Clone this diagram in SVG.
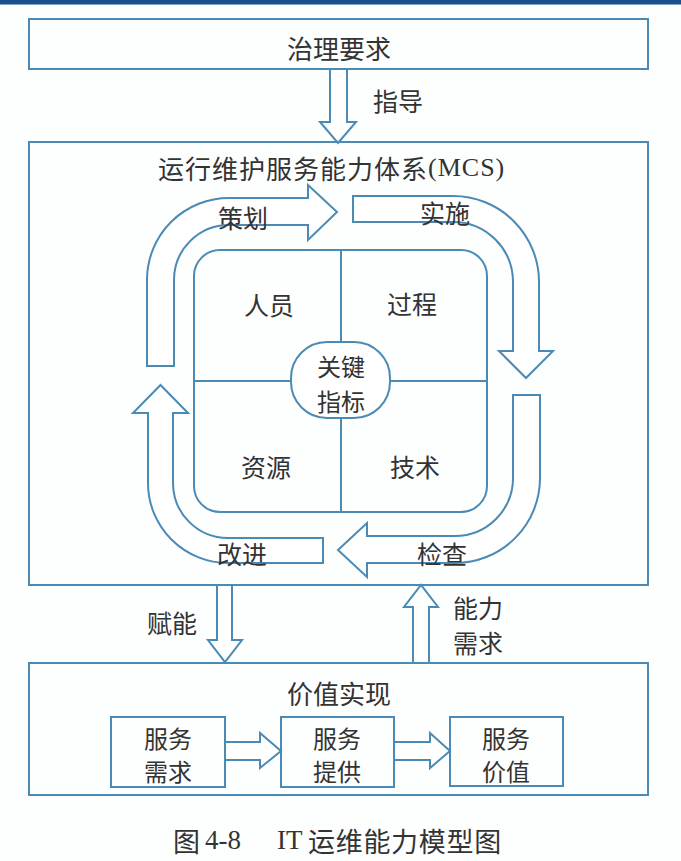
<svg xmlns="http://www.w3.org/2000/svg" width="681" height="861" viewBox="0 0 681 861">
  <style>
    .box { fill: none; stroke: #4a8ab5; stroke-width: 2; }
    .fillbox { fill: #ffffff; stroke: #4a8ab5; stroke-width: 2; }
    .arr { fill: #ffffff; stroke: #4a8ab5; stroke-width: 2; stroke-linejoin: miter; }
    .ln { fill: none; stroke: #4a8ab5; stroke-width: 2; }
    .t { font-family: "Noto Sans CJK SC", "Noto Sans", sans-serif; font-size: 25px; fill: #333333; text-anchor: middle; dominant-baseline: central; }
    .t26 { font-size: 26px; }
    .t24 { font-size: 24px; }
    .lat { font-family: "Liberation Serif", "Noto Sans CJK SC", serif; }
    .cap { font-family: "Noto Sans CJK SC", "Noto Sans", sans-serif; font-size: 27px; fill: #333333; dominant-baseline: central; }
  </style>
  <rect x="0" y="0" width="681" height="861" fill="#fdfefe"/>
  <rect x="0" y="0" width="681" height="4" fill="#1d4f8a"/>
  <rect x="0" y="4" width="681" height="1" fill="#7aa3cc"/>

  <g id="governance">
    <rect class="box" x="29" y="19" width="619" height="50"/>
    <text class="t t26" x="339" y="47">治理要求</text>
  </g>

  <g id="mcs">
    <rect class="box" x="29" y="142" width="619" height="443"/>
    <text class="t" x="158" y="167" style="text-anchor:start;font-size:26px;letter-spacing:1px">运行维护服务能力体系<tspan class="lat">(MCS)</tspan></text>
  </g>

  <g id="connectors">
    <!-- guide arrow -->
    <path class="arr" d="M330,69 L347,69 L347,122 L356,122 L338,143 L320,122 L330,122 Z"/>
    <!-- empower arrow -->
    <path class="arr" d="M217,585 L232,585 L232,640 L242,640 L225,662 L208,640 L217,640 Z"/>
    <!-- capability demand arrow -->
    <path class="arr" d="M413,663 L413,607 L404,607 L421,585 L438,607 L429,607 L429,663 Z"/>
    <!-- service flow arrows -->
    <path class="arr" d="M225,742 L260,742 L260,733 L281,751 L260,768 L260,760 L225,760"/>
    <path class="arr" d="M394,742 L430,742 L430,733 L450,751 L430,768 L430,760 L394,760"/>
    <!-- cycle arrows -->
    <path id="plan" class="arr" d="M147,366 L147,280 A82,82 0 0 1 229,198 L308,198 L308,185 L337,212 L308,240 L308,225 L229,225 A55,55 0 0 0 174,280 L174,366 Z"/>
    <path id="do" class="arr" d="M353,196 L453,196 A86,86 0 0 1 539,282 L539,351 L553,351 L526,378 L499,351 L513,351 L513,282 A60,60 0 0 0 453,222 L353,222 Z"/>
    <path id="check" class="arr" d="M513,395 L540,395 L540,478 A85,85 0 0 1 455,563 L367,563 L367,577 L338,550 L367,523 L367,536 L455,536 A58,58 0 0 0 513,478 Z"/>
    <path id="act" class="arr" d="M323,538 L323,563 L228,563 A80,80 0 0 1 148,483 L148,413 L133,413 L160.5,385 L188,413 L173,413 L173,483 A55,55 0 0 0 228,538 Z"/>
  </g>

  <text class="t" x="398" y="100">指导</text>
  <text class="t" x="172" y="622">赋能</text>
  <text class="t" x="478" y="607">能力</text>
  <text class="t" x="478" y="642">需求</text>
  <text class="t" x="243" y="217">策划</text>
  <text class="t" x="445" y="212">实施</text>
  <text class="t" x="442" y="553">检查</text>
  <text class="t" x="242" y="553">改进</text>

  <g id="quadrant">
    <rect class="box" x="194" y="250" width="293" height="262" rx="26" ry="26"/>
    <line class="ln" x1="341" y1="250" x2="341" y2="342"/>
    <line class="ln" x1="341" y1="418" x2="341" y2="512"/>
    <line class="ln" x1="194" y1="381" x2="291" y2="381"/>
    <line class="ln" x1="390" y1="381" x2="487" y2="381"/>
    <text class="t" x="269" y="304">人员</text>
    <text class="t" x="412" y="303">过程</text>
    <text class="t" x="266" y="466">资源</text>
    <text class="t" x="415" y="466">技术</text>
  </g>

  <g id="key-indicator">
    <rect class="fillbox" x="291" y="342" width="99" height="76" rx="36" ry="36"/>
    <text class="t t24" x="341" y="365">关键</text>
    <text class="t t24" x="341" y="400">指标</text>
  </g>

  <g id="value">
    <rect class="box" x="29" y="663" width="619" height="132"/>
    <text class="t t26" x="339" y="692">价值实现</text>
  </g>
  <g id="service-demand">
    <rect class="box" x="111" y="717" width="114" height="70"/>
    <text class="t t24" x="168" y="737">服务</text>
    <text class="t t24" x="168" y="770">需求</text>
  </g>
  <g id="service-supply">
    <rect class="box" x="281" y="717" width="113" height="70"/>
    <text class="t t24" x="337" y="737">服务</text>
    <text class="t t24" x="337" y="770">提供</text>
  </g>
  <g id="service-value">
    <rect class="box" x="450" y="717" width="113" height="69"/>
    <text class="t t24" x="506" y="737">服务</text>
    <text class="t t24" x="506" y="770">价值</text>
  </g>

  <g id="caption">
    <text class="cap" y="840"><tspan x="173">图</tspan><tspan class="lat" x="205">4-8</tspan><tspan class="lat" x="277">IT</tspan><tspan x="308" style="letter-spacing:0.7px">运维能力模型图</tspan></text>
  </g>
</svg>
